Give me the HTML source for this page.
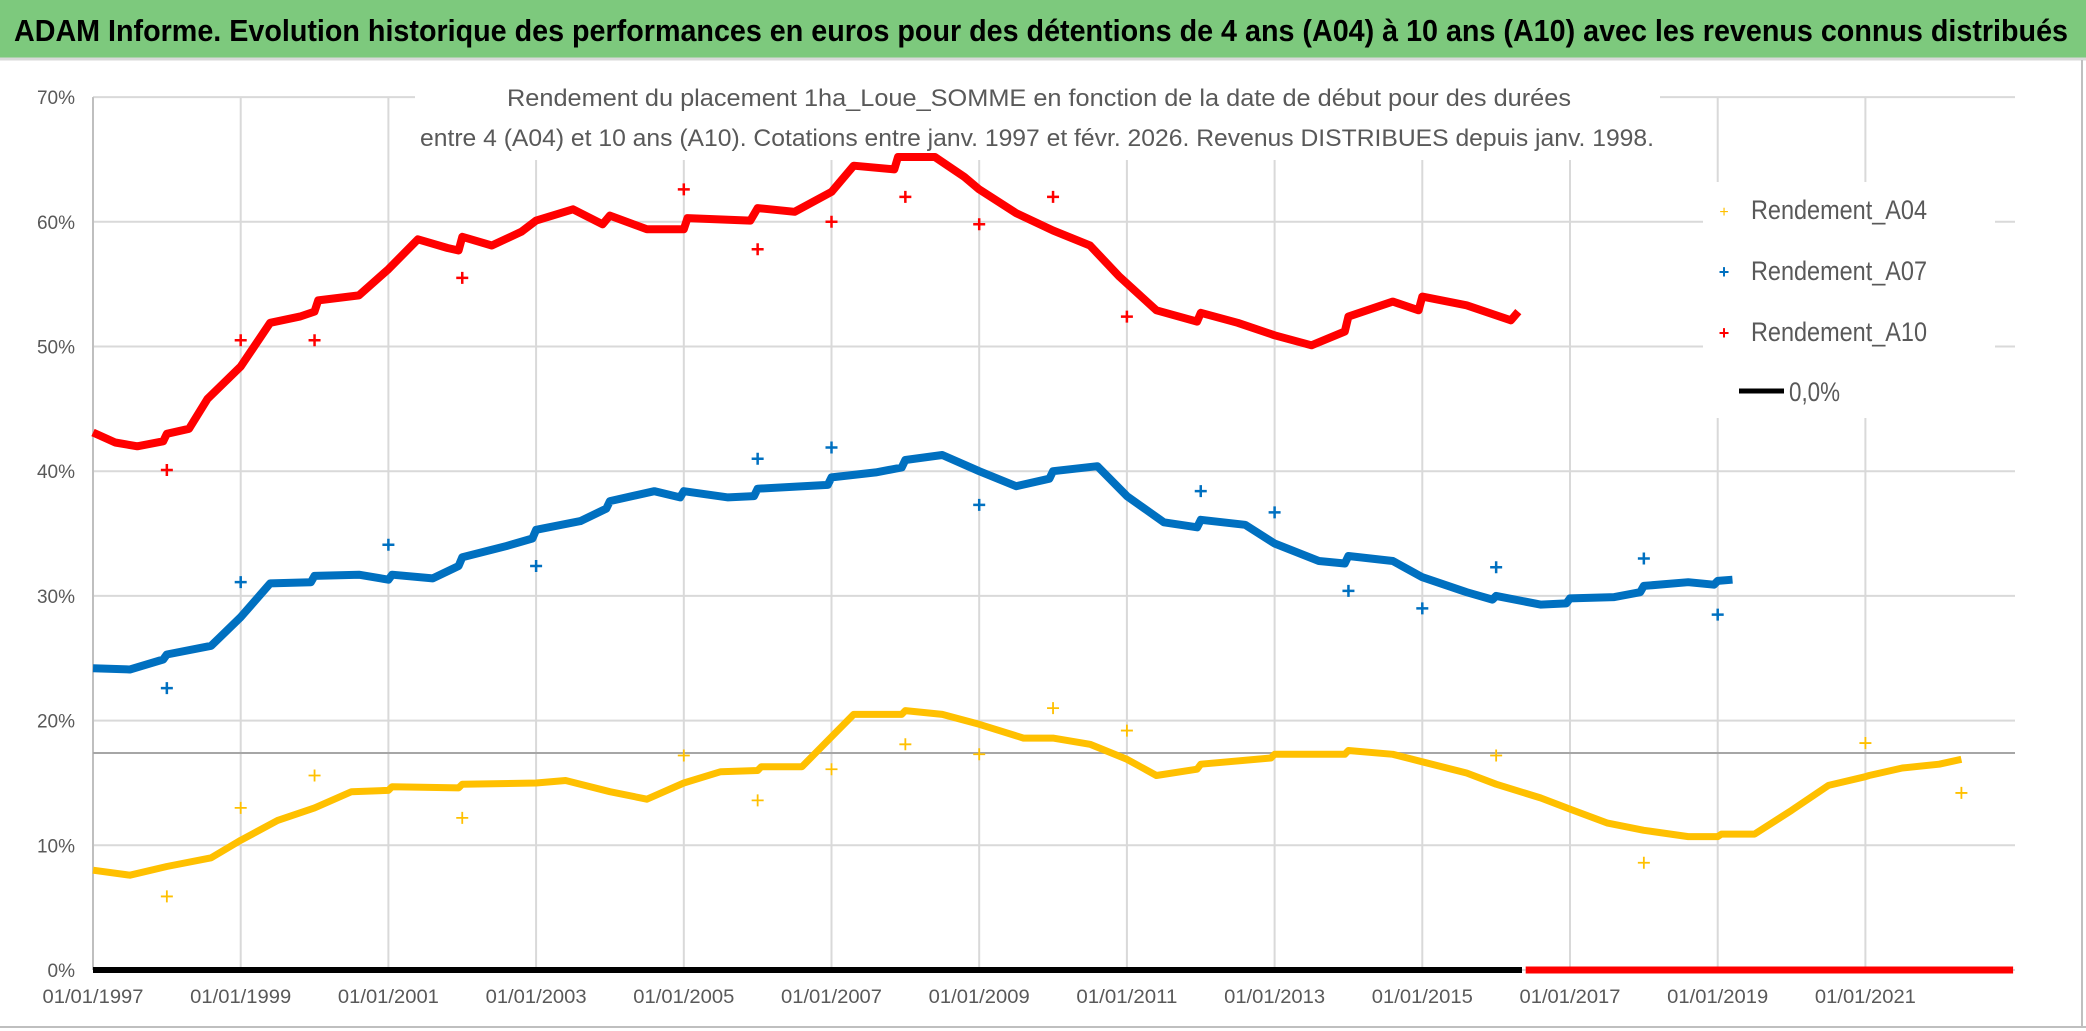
<!DOCTYPE html>
<html><head><meta charset="utf-8">
<style>
html,body{margin:0;padding:0;background:#fff;}
svg{display:block;font-family:"Liberation Sans",sans-serif;}
</style></head>
<body>
<svg id="chart" width="2086" height="1031" viewBox="0 0 2086 1031" xmlns="http://www.w3.org/2000/svg">
  <rect x="0" y="0" width="2086" height="1031" fill="#fff"/>
  <rect x="0" y="0" width="2086" height="58" fill="#7dc97d"/>
  <line x1="0" y1="59" x2="2086" y2="59" stroke="#d9d9d9" stroke-width="3"/>
  <text x="14" y="41" font-size="31" font-weight="bold" fill="#000" textLength="2054" lengthAdjust="spacingAndGlyphs">ADAM Informe. Evolution historique des performances en euros pour des détentions de 4 ans (A04) à 10 ans (A10) avec les revenus connus distribués</text>
  <line x1="2082" y1="60" x2="2082" y2="1028" stroke="#bfbfbf" stroke-width="2"/>
  <line x1="0" y1="1027" x2="2086" y2="1027" stroke="#bfbfbf" stroke-width="2"/>
  <g id="grid"></g>
  <g id="ylabels"></g>
  <g id="xlabels"></g>
  <rect x="415" y="76" width="1245" height="84" fill="#fff"/>
  <rect x="1703" y="182" width="292" height="236" fill="#fff"/>
  <g id="series"></g>
  <text x="507" y="106" font-size="24" fill="#595959" textLength="1064" lengthAdjust="spacingAndGlyphs">Rendement du placement 1ha_Loue_SOMME en fonction de la date de début pour des durées</text>
  <text x="420" y="146" font-size="24" fill="#595959" textLength="1234" lengthAdjust="spacingAndGlyphs">entre 4 (A04) et 10 ans (A10). Cotations entre janv. 1997 et févr. 2026. Revenus DISTRIBUES depuis janv. 1998.</text>
  <g>
    <g>
      <text x="1724" y="217" font-size="16" fill="#ffc000" text-anchor="middle">+</text>
      <text x="1751" y="219" font-size="27" fill="#595959" textLength="176" lengthAdjust="spacingAndGlyphs">Rendement_A04</text>
    </g>
    <g>
      <text x="1724" y="278" font-size="18" font-weight="bold" fill="#0070c0" text-anchor="middle">+</text>
      <text x="1751" y="280" font-size="27" fill="#595959" textLength="176" lengthAdjust="spacingAndGlyphs">Rendement_A07</text>
    </g>
    <g>
      <text x="1724" y="339" font-size="18" font-weight="bold" fill="#ff0000" text-anchor="middle">+</text>
      <text x="1751" y="341" font-size="27" fill="#595959" textLength="176" lengthAdjust="spacingAndGlyphs">Rendement_A10</text>
    </g>
    <g>
      <line x1="1739" y1="391" x2="1784" y2="391" stroke="#000" stroke-width="5"/>
      <text x="1789" y="401" font-size="27" fill="#595959" textLength="51" lengthAdjust="spacingAndGlyphs">0,0%</text>
    </g>
  </g>
</svg>
<script>
// ---- data ----
const yTicks = [0,10,20,30,40,50,60,70];
const xTickYears = [1997,1999,2001,2003,2005,2007,2009,2011,2013,2015,2017,2019,2021];
const refLineValue = 17.4;

const a10Years = [1997.0,1997.3,1997.6,1997.95,1998.0,1998.3,1998.55,1999.0,1999.4,1999.8,2000.0,2000.05,2000.6,2001.0,2001.4,2001.8,2001.95,2002.0,2002.4,2002.8,2003.0,2003.5,2003.9,2004.0,2004.5,2005.0,2005.05,2005.9,2006.0,2006.5,2007.0,2007.3,2007.85,2007.9,2008.4,2008.8,2009.0,2009.5,2010.0,2010.5,2010.9,2011.4,2011.95,2012.0,2012.5,2013.0,2013.5,2013.95,2014.0,2014.6,2014.95,2015.0,2015.6,2016.2,2016.3];
const a10Values = [43.1,42.3,42.0,42.4,43.0,43.4,45.8,48.4,51.9,52.4,52.8,53.7,54.1,56.2,58.6,57.9,57.7,58.8,58.1,59.2,60.1,61.0,59.8,60.5,59.4,59.4,60.3,60.1,61.1,60.8,62.4,64.5,64.2,65.2,65.2,63.6,62.6,60.7,59.3,58.1,55.6,52.9,52.0,52.7,51.9,50.9,50.1,51.2,52.4,53.6,52.9,54.0,53.3,52.1,52.8];
const a10OutYears = [1998,1999,2000,2002,2005,2006,2007,2008,2009,2010,2011];
const a10OutValues = [40.1,50.5,50.5,55.5,62.6,57.8,60.0,62.0,59.8,62.0,52.4];

const a07Years = [1997.0,1997.5,1997.95,1998.0,1998.6,1999.0,1999.4,1999.95,2000.0,2000.6,2001.0,2001.05,2001.6,2001.95,2002.0,2002.6,2002.95,2003.0,2003.6,2003.95,2004.0,2004.6,2004.95,2005.0,2005.6,2005.95,2006.0,2006.95,2007.0,2007.6,2007.95,2008.0,2008.5,2009.0,2009.5,2009.95,2010.0,2010.6,2011.0,2011.5,2011.95,2012.0,2012.6,2013.0,2013.6,2013.95,2014.0,2014.6,2015.0,2015.6,2015.95,2016.0,2016.6,2016.95,2017.0,2017.6,2017.95,2018.0,2018.6,2018.95,2019.0,2019.2];
const a07Values = [24.2,24.1,24.9,25.3,26.0,28.3,31.0,31.1,31.6,31.7,31.3,31.7,31.4,32.4,33.1,34.0,34.6,35.3,36.0,37.0,37.6,38.4,37.9,38.4,37.9,38.0,38.6,38.9,39.5,39.9,40.3,40.9,41.3,40.0,38.8,39.4,40.0,40.4,38.0,35.9,35.5,36.1,35.7,34.2,32.8,32.6,33.2,32.8,31.5,30.3,29.7,30.0,29.3,29.4,29.8,29.9,30.3,30.8,31.1,30.9,31.2,31.3];
const a07OutYears = [1998,1999,2001,2003,2006,2007,2009,2012,2013,2014,2015,2016,2018,2019];
const a07OutValues = [22.6,31.1,34.1,32.4,41.0,41.9,37.3,38.4,36.7,30.4,29.0,32.3,33.0,28.5];

const a04Years = [1997.0,1997.5,1998.0,1998.6,1999.0,1999.5,2000.0,2000.5,2001.0,2001.05,2001.95,2002.0,2003.0,2003.4,2004.0,2004.5,2005.0,2005.5,2006.0,2006.05,2006.6,2007.0,2007.3,2007.95,2008.0,2008.5,2009.0,2009.6,2010.0,2010.5,2011.0,2011.4,2011.95,2012.0,2012.95,2013.0,2013.95,2014.0,2014.6,2015.0,2015.6,2016.0,2016.6,2017.0,2017.5,2018.0,2018.6,2019.0,2019.05,2019.5,2020.0,2020.5,2021.0,2021.05,2021.5,2022.0,2022.3];
const a04Values = [8.0,7.6,8.3,9.0,10.4,12.0,13.0,14.3,14.4,14.7,14.6,14.9,15.0,15.2,14.3,13.7,15.0,15.9,16.0,16.3,16.3,18.7,20.5,20.5,20.8,20.5,19.7,18.6,18.6,18.1,16.9,15.6,16.1,16.5,17.0,17.3,17.3,17.6,17.3,16.7,15.8,14.9,13.8,12.9,11.8,11.2,10.7,10.7,10.9,10.9,12.8,14.8,15.5,15.6,16.2,16.5,16.9];
const a04OutYears = [1998,1999,2000,2002,2005,2006,2007,2008,2009,2010,2011,2016,2018,2021,2022.3];
const a04OutValues = [5.9,13.0,15.6,12.2,17.2,13.6,16.1,18.1,17.3,21.0,19.2,17.2,8.6,18.2,14.2];

const zeroLineYears = [1997.0,2016.35];
const zeroLineValues = [0,0];
const zeroPointYears = [2016.4,2023.0];
const zeroPointValues = [0,0];

// ---- axes ----
const X0=93, YEARW=73.85, Y0=970, PCT=124.7, XEND=2015;
function xs(yr){return X0+(yr-1997)*YEARW;}
function ys(v){return Y0-v*PCT/10;}
const NS="http://www.w3.org/2000/svg";
function mk(tag,attrs,parent){const e=document.createElementNS(NS,tag);for(const k in attrs)e.setAttribute(k,attrs[k]);parent.appendChild(e);return e;}
const grid=document.getElementById('grid');
yTicks.forEach(v=>{
  const l=mk('line',{x1:X0,x2:XEND,y1:ys(v),y2:ys(v),stroke:'#d9d9d9','stroke-width':2},grid);
  
  
  const t=mk('text',{x:75,y:ys(v)+7,'font-size':19,fill:'#595959','text-anchor':'end'},document.getElementById('ylabels'));
  t.textContent=v+'%';
  
  
});
xTickYears.forEach(yr=>{
  const l=mk('line',{x1:xs(yr),x2:xs(yr),y1:ys(70),y2:Y0,stroke:'#d9d9d9','stroke-width':2},grid);
  
  
  const t=mk('text',{x:xs(yr),y:1003,'font-size':19,fill:'#595959','text-anchor':'middle',textLength:101,lengthAdjust:'spacingAndGlyphs'},document.getElementById('xlabels'));
  t.textContent='01/01/'+yr;
  
  
});
const ax=mk('line',{x1:X0,x2:X0,y1:ys(70),y2:Y0,stroke:'#bfbfbf','stroke-width':2},grid);


const ref=mk('line',{x1:X0,x2:XEND,y1:ys(refLineValue),y2:ys(refLineValue),stroke:'#a6a6a6','stroke-width':2},grid);



const S=document.getElementById('series');
function dense(years,vals,color,name,w){
  const pts=years.map((y,i)=>xs(y).toFixed(1)+','+ys(vals[i]).toFixed(1)).join(' ');
  const p=mk('polyline',{points:pts,fill:'none',stroke:color,'stroke-width':w,'stroke-linejoin':'round','stroke-linecap':'butt'},S);
  
  
}
function outliers(years,vals,color,name,sw){
  years.forEach((y,i)=>{
    const g=mk('path',{d:`M${xs(y)-6},${ys(vals[i])}h12M${xs(y)},${ys(vals[i])-6}v12`,stroke:color,'stroke-width':sw},S);
    
    
  });
}
const z=mk('polyline',{points:zeroLineYears.map((y,i)=>xs(y)+','+ys(zeroLineValues[i])).join(' '),stroke:'#000','stroke-width':6,fill:'none'},S);


const zr=mk('polyline',{points:zeroPointYears.map((y,i)=>xs(y)+','+ys(zeroPointValues[i])).join(' '),stroke:'#ff0000','stroke-width':7,fill:'none'},S);


dense(a04Years,a04Values,'#ffc000','series-a04',7);
dense(a07Years,a07Values,'#0070c0','series-a07',8);
dense(a10Years,a10Values,'#ff0000','series-a10',8);
outliers(a04OutYears,a04OutValues,'#ffc000','a04-point',1.8);
outliers(a07OutYears,a07OutValues,'#0070c0','a07-point',2.5);
outliers(a10OutYears,a10OutValues,'#ff0000','a10-point',2.5);
</script>
</body></html>
